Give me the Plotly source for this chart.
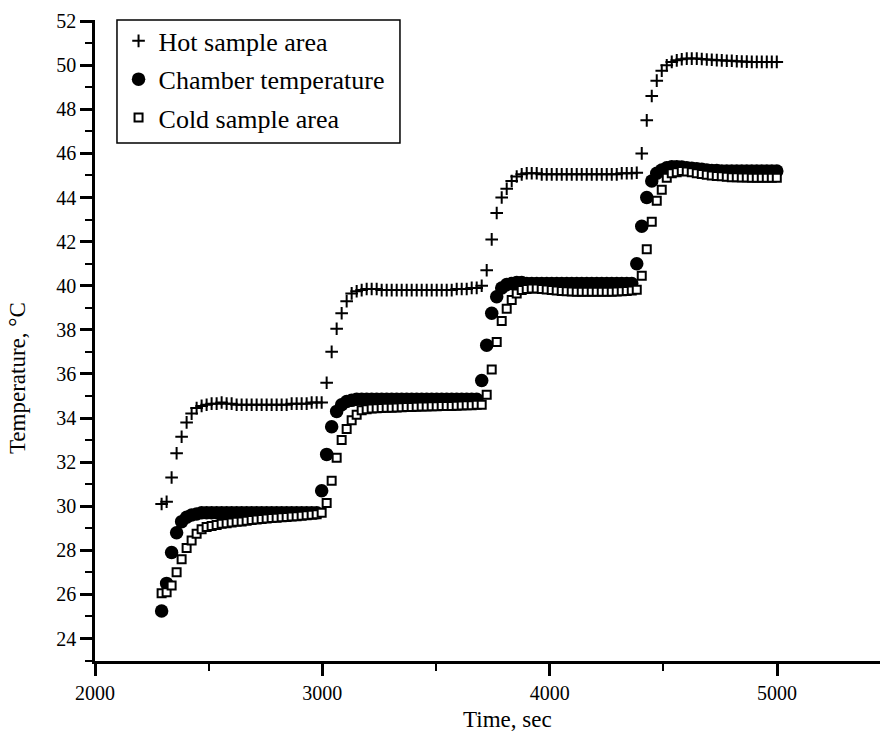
import plotly.graph_objects as go

time_s = [2293, 2315, 2337, 2359, 2381, 2403, 2425, 2447, 2469, 2491,
          2513, 2535, 2557, 2579, 2601, 2623, 2645, 2667, 2689, 2711,
          2733, 2755, 2777, 2799, 2821, 2843, 2865, 2887, 2909, 2931,
          2953, 2975, 2997, 3019, 3041, 3063, 3085, 3107, 3129, 3151,
          3173, 3195, 3217, 3239, 3261, 3283, 3305, 3327, 3349, 3371,
          3393, 3415, 3437, 3459, 3481, 3503, 3525, 3547, 3569, 3591,
          3613, 3635, 3657, 3679, 3701, 3723, 3745, 3767, 3789, 3811,
          3833, 3855, 3877, 3899, 3921, 3943, 3965, 3987, 4009, 4031,
          4053, 4075, 4097, 4119, 4141, 4163, 4185, 4207, 4229, 4251,
          4273, 4295, 4317, 4339, 4361, 4383, 4405, 4427, 4449, 4471,
          4493, 4515, 4537, 4559, 4581, 4603, 4625, 4647, 4669, 4691,
          4713, 4735, 4757, 4779, 4801, 4823, 4845, 4867, 4889, 4911,
          4933, 4955, 4977, 4999]

hot_sample = [30.1, 30.2, 31.3, 32.4, 33.15, 33.8, 34.2, 34.45, 34.55, 34.6,
              34.65, 34.65, 34.7, 34.65, 34.65, 34.6, 34.6, 34.6, 34.6, 34.6,
              34.6, 34.6, 34.6, 34.6, 34.6, 34.6, 34.65, 34.65, 34.65, 34.65,
              34.7, 34.7, 34.7, 35.6, 37.0, 38.05, 38.75, 39.3, 39.65, 39.75,
              39.8, 39.85, 39.85, 39.85, 39.8, 39.8, 39.8, 39.8, 39.8, 39.8,
              39.8, 39.8, 39.8, 39.8, 39.8, 39.8, 39.8, 39.8, 39.8, 39.85,
              39.85, 39.85, 39.9, 39.9, 40.0, 40.7, 42.1, 43.3, 44.0, 44.4,
              44.75, 44.95, 45.05, 45.1, 45.1, 45.1, 45.05, 45.05, 45.05, 45.05,
              45.05, 45.05, 45.05, 45.05, 45.05, 45.05, 45.05, 45.05, 45.05, 45.05,
              45.05, 45.05, 45.1, 45.1, 45.1, 45.12, 46.0, 47.5, 48.6, 49.3,
              49.75, 50.0, 50.15, 50.22, 50.27, 50.3, 50.3, 50.3, 50.28, 50.26,
              50.25, 50.23, 50.22, 50.2, 50.2, 50.18, 50.17, 50.16, 50.15, 50.15,
              50.15, 50.15, 50.15, 50.15]

chamber = [25.25, 26.5, 27.9, 28.8, 29.3, 29.5, 29.6, 29.65, 29.7, 29.7,
           29.7, 29.7, 29.7, 29.7, 29.7, 29.7, 29.7, 29.7, 29.7, 29.7,
           29.7, 29.7, 29.7, 29.7, 29.7, 29.7, 29.7, 29.7, 29.7, 29.7,
           29.7, 29.7, 30.7, 32.35, 33.6, 34.3, 34.6, 34.75, 34.8, 34.85,
           34.85, 34.85, 34.85, 34.85, 34.85, 34.85, 34.85, 34.85, 34.85, 34.85,
           34.85, 34.85, 34.85, 34.85, 34.85, 34.85, 34.85, 34.85, 34.85, 34.85,
           34.85, 34.85, 34.85, 34.85, 35.7, 37.3, 38.75, 39.5, 39.9, 40.05,
           40.1, 40.15, 40.15, 40.1, 40.1, 40.1, 40.1, 40.1, 40.1, 40.1,
           40.1, 40.1, 40.1, 40.1, 40.1, 40.1, 40.1, 40.1, 40.1, 40.1,
           40.1, 40.1, 40.1, 40.1, 40.1, 41.0, 42.7, 44.0, 44.75, 45.1,
           45.25, 45.35, 45.4, 45.4, 45.38, 45.35, 45.33, 45.3, 45.28, 45.25,
           45.23, 45.22, 45.2, 45.2, 45.2, 45.2, 45.2, 45.2, 45.2, 45.2,
           45.2, 45.2, 45.2, 45.2]

cold_sample = [26.05, 26.1, 26.4, 27.0, 27.6, 28.1, 28.45, 28.75, 28.95, 29.06,
               29.1, 29.15, 29.2, 29.23, 29.26, 29.29, 29.31, 29.34, 29.37, 29.4,
               29.42, 29.44, 29.46, 29.48, 29.5, 29.51, 29.53, 29.55, 29.57, 29.59,
               29.61, 29.64, 29.7, 30.15, 31.15, 32.2, 33.0, 33.5, 33.9, 34.15,
               34.35, 34.4, 34.43, 34.44, 34.45, 34.46, 34.47, 34.48, 34.49, 34.5,
               34.5, 34.51, 34.52, 34.52, 34.53, 34.53, 34.54, 34.55, 34.55, 34.56,
               34.57, 34.58, 34.58, 34.6, 34.6, 35.05, 36.2, 37.45, 38.4, 38.95,
               39.35, 39.65, 39.8, 39.85, 39.87, 39.87, 39.85, 39.83, 39.8, 39.78,
               39.76, 39.75, 39.74, 39.73, 39.73, 39.73, 39.73, 39.73, 39.73, 39.73,
               39.73, 39.74, 39.75, 39.76, 39.78, 39.82, 40.45, 41.65, 42.9, 43.85,
               44.35, 44.9, 45.1, 45.15, 45.2, 45.18, 45.15, 45.1, 45.07, 45.03,
               45.0, 44.98, 44.96, 44.94, 44.92, 44.92, 44.91, 44.91, 44.9, 44.9,
               44.9, 44.9, 44.9, 44.9]

x_ticks = [2000, 3000, 4000, 5000]
y_ticks = list(range(24, 53, 2))

FONT = "Liberation Serif"

fig = go.Figure()
fig.add_trace(go.Scatter(
    x=time_s, y=chamber, mode="markers", name="Chamber temperature",
    legendgroup="b", legendrank=2,
    marker=dict(symbol="circle", size=13.5, color="black", line=dict(width=0))))
fig.add_trace(go.Scatter(
    x=time_s, y=cold_sample, mode="markers", name="Cold sample area",
    legendgroup="c", legendrank=3,
    marker=dict(symbol="square", size=8, color="white",
                line=dict(width=2, color="black"))))
fig.add_trace(go.Scatter(
    x=time_s, y=hot_sample, mode="markers", name="Hot sample area",
    legendgroup="a", legendrank=1,
    marker=dict(symbol="cross-thin", size=9, color="black",
                line=dict(width=2, color="black"))))

axis_common = dict(
    showgrid=False, zeroline=False, showline=True, linecolor="black",
    linewidth=2.5, ticks="outside", ticklen=12, tickwidth=2.5,
    tickcolor="black", tickfont=dict(family=FONT, size=20, color="black"),
)

fig.update_xaxes(range=[2000, 5453], tickvals=x_ticks, **axis_common,
                 minor=dict(dtick=500, tick0=2000, ticks="outside", ticklen=7,
                            tickwidth=2, tickcolor="black"))
fig.update_yaxes(range=[22.98, 52.05], tickvals=y_ticks, **axis_common,
                 minor=dict(dtick=1, tick0=23, ticks="outside", ticklen=7,
                            tickwidth=2, tickcolor="black"))

fig.add_annotation(text="Time, sec", xref="paper", yref="paper",
                   x=0.525, y=-0.092, xanchor="center", yanchor="middle",
                   showarrow=False,
                   font=dict(family=FONT, size=23, color="black"))
fig.add_annotation(text="Temperature, °C", xref="paper", yref="paper",
                   x=-0.098, y=0.4415, xanchor="center", yanchor="middle",
                   textangle=-90, showarrow=False,
                   font=dict(family=FONT, size=23, color="black"))

# legend frame
fig.add_shape(type="rect", xref="paper", yref="paper",
              x0=0.028, x1=0.3885, y0=0.808, y1=1.0,
              line=dict(color="black", width=1.5), fillcolor="rgba(0,0,0,0)",
              layer="above")

fig.update_layout(
    width=880, height=731,
    margin=dict(l=95, r=0, t=20, b=70),
    paper_bgcolor="white", plot_bgcolor="white",
    showlegend=True,
    legend=dict(x=0.03, y=1.004, xanchor="left", yanchor="top",
                borderwidth=0, bgcolor="rgba(0,0,0,0)",
                traceorder="grouped", tracegroupgap=1.5,
                font=dict(family=FONT, size=26, color="black")),
)

fig.write_html("out.html", config={"displayModeBar": False},
               post_script="document.body.style.margin='0px';")
